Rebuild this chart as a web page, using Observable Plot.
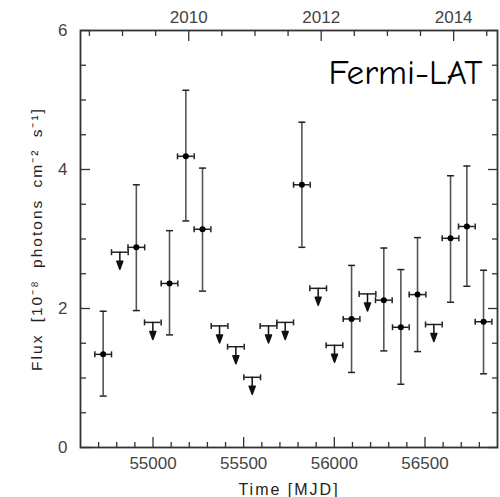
<!DOCTYPE html>
<html><head><meta charset="utf-8">
<script src="https://cdn.jsdelivr.net/npm/d3@7"></script>
<script src="https://cdn.jsdelivr.net/npm/@observablehq/plot@0.6"></script>
<style>body{margin:0;background:#fff;} #chart svg{display:block;}</style>
</head><body><div id="chart"></div>
<script>
// Detections (MJD bin centre, flux, lower & upper error bound) in 1e-8 ph cm^-2 s^-1
const detTime = [54725, 54908, 55091, 55181, 55273, 55821, 56095, 56273, 56367, 56459, 56641, 56731, 56823];
const detFlux = [1.34, 2.88, 2.36, 4.19, 3.14, 3.78, 1.85, 2.12, 1.73, 2.20, 3.01, 3.18, 1.81];
const detLow  = [0.74, 1.97, 1.62, 3.26, 2.25, 2.88, 1.08, 1.39, 0.91, 1.38, 2.09, 2.32, 1.06];
const detHigh = [1.96, 3.78, 3.12, 5.14, 4.02, 4.68, 2.62, 2.87, 2.56, 3.02, 3.91, 4.05, 2.55];
// Upper limits
const ulTime = [54817, 54999, 55367, 55457, 55547, 55637, 55729, 55911, 56001, 56183, 56549];
const ulFlux = [2.81, 1.80, 1.75, 1.45, 1.01, 1.75, 1.80, 2.29, 1.47, 2.21, 1.77];
const halfBin = 46; // days

// Tick values
const mjdMajor = [55000, 55500, 56000, 56500];
const mjdMinor = [54700, 54800, 54900, 55100, 55200, 55300, 55400, 55600, 55700, 55800, 55900, 56100, 56200, 56300, 56400, 56600, 56700, 56800];
const fluxMajor = [0, 2, 4, 6];
const fluxMinor = [0.5, 1, 1.5, 2.5, 3, 3.5, 4.5, 5, 5.5];
const yearMajor = [2010, 2012, 2014];
const yearMinor = [2008.5, 2009, 2009.5, 2010.5, 2011, 2011.5, 2012.5, 2013, 2013.5, 2014.5];
const yearToMJD = y => 51544.5 + (y - 2000) * 365.25;

const xLabel = "Time [MJD]";
const yLabel = "Flux [10\u207B\u2078 photons cm\u207B\u00B2 s\u207B\u00B9]";
const tag = "Fermi-LAT";

const det = detTime.map((t, i) => ({t, f: detFlux[i], lo: detLow[i], hi: detHigh[i]}));
const ul = ulTime.map((t, i) => ({t, f: ulFlux[i]}));

const hcap = {draw(c, s) { const r = Math.sqrt(s / Math.PI); c.moveTo(-r, 0); c.lineTo(r, 0); }};
const vcap = {draw(c, s) { const r = Math.sqrt(s / Math.PI); c.moveTo(0, -r); c.lineTo(0, r); }};
const downArrow = {draw(c, l) {
  const h = 8, w = 3;
  c.moveTo(0, 0); c.lineTo(0, -(l - h));
  c.moveTo(-w, -(l - h)); c.lineTo(0, -l); c.lineTo(w, -(l - h)); c.closePath();
}};

const tickStroke = "#333";
const errStroke = "#555";
const barStroke = "#222";

const chart = Plot.plot({
  width: 500, height: 497,
  marginLeft: 80, marginRight: 3, marginTop: 30, marginBottom: 50,
  style: {fontFamily: "'Liberation Sans', Arial, sans-serif", fontSize: "17px", color: "#333", background: "#fff"},
  x: {domain: [54600, 56900], axis: null},
  y: {domain: [0, 6], axis: null},
  marks: [
    // inward ticks
    Plot.axisX(mjdMinor, {anchor: "bottom", tickSize: -5, fill: "none", stroke: tickStroke, strokeWidth: 1.3, label: null}),
    Plot.axisX(mjdMajor, {anchor: "bottom", tickSize: -10, fill: "none", stroke: tickStroke, strokeWidth: 1.3, label: null}),
    Plot.axisX(yearMinor.map(yearToMJD), {anchor: "top", tickSize: -5, fill: "none", stroke: tickStroke, strokeWidth: 1.3, label: null}),
    Plot.axisX(yearMajor.map(yearToMJD), {anchor: "top", tickSize: -10, fill: "none", stroke: tickStroke, strokeWidth: 1.3, label: null}),
    Plot.axisY(fluxMinor, {anchor: "left", tickSize: -6, fill: "none", stroke: tickStroke, strokeWidth: 1.3, label: null}),
    Plot.axisY(fluxMajor, {anchor: "left", tickSize: -10, fill: "none", stroke: tickStroke, strokeWidth: 1.3, label: null}),
    Plot.axisY(fluxMinor, {anchor: "right", tickSize: -6, fill: "none", stroke: tickStroke, strokeWidth: 1.3, label: null}),
    Plot.axisY(fluxMajor, {anchor: "right", tickSize: -10, fill: "none", stroke: tickStroke, strokeWidth: 1.3, label: null}),
    // tick labels
    Plot.axisX(mjdMajor, {anchor: "bottom", tickSize: 0, tickPadding: 9, tickFormat: d => String(d), fill: "#444", fontSize: 17, label: null}),
    Plot.axisX(yearMajor.map(yearToMJD), {anchor: "top", tickSize: 0, tickPadding: 8, tickFormat: d => String(Math.round((d - 51544.5) / 365.25 + 2000)), fill: "#444", fontSize: 17, label: null}),
    Plot.axisY(fluxMajor, {anchor: "left", tickSize: 0, tickPadding: 13, tickFormat: d => String(d), fill: "#444", fontSize: 17, label: null}),
    Plot.frame({stroke: "#333", strokeWidth: 1.8}),
    // axis titles
    Plot.text([xLabel], {frameAnchor: "bottom", dy: 42, lineAnchor: "middle", fill: "#222", fontSize: 16, text: d => d}),
    Plot.text([yLabel], {frameAnchor: "left", textAnchor: "middle", dx: -43, dy: 0, rotate: -90, lineAnchor: "middle", fill: "#222", fontSize: 15.5, text: d => d}),
    Plot.text([tag], {frameAnchor: "top-right", dx: -15, dy: 29, lineAnchor: "top", textAnchor: "end", fill: "#000", fontSize: 35, fontFamily: "'Comic Sans MS', 'Comic Neue', cursive", text: d => d}),
    // detections
    Plot.ruleX(det, {x: "t", y1: "lo", y2: "hi", stroke: errStroke, strokeWidth: 1.6}),
    Plot.dot(det, {x: "t", y: "lo", symbol: hcap, r: 3.5, stroke: barStroke, strokeWidth: 1.5}),
    Plot.dot(det, {x: "t", y: "hi", symbol: hcap, r: 3.5, stroke: barStroke, strokeWidth: 1.5}),
    Plot.ruleY(det, {y: "f", x1: d => d.t - halfBin, x2: d => d.t + halfBin, stroke: barStroke, strokeWidth: 1.5}),
    Plot.dot(det, {x: d => d.t - halfBin, y: "f", symbol: vcap, r: 3, stroke: barStroke, strokeWidth: 1.5}),
    Plot.dot(det, {x: d => d.t + halfBin, y: "f", symbol: vcap, r: 3, stroke: barStroke, strokeWidth: 1.5}),
    Plot.dot(det, {x: "t", y: "f", r: 3, fill: "#000", stroke: "none"}),
    // upper limits
    Plot.ruleY(ul, {y: "f", x1: d => d.t - halfBin, x2: d => d.t + halfBin, stroke: barStroke, strokeWidth: 1.5}),
    Plot.dot(ul, {x: d => d.t - halfBin, y: "f", symbol: vcap, r: 3, stroke: barStroke, strokeWidth: 1.5}),
    Plot.dot(ul, {x: d => d.t + halfBin, y: "f", symbol: vcap, r: 3, stroke: barStroke, strokeWidth: 1.5}),
    Plot.vector(ul, {x: "t", y: "f", rotate: 180, anchor: "start", length: 17, shape: downArrow, stroke: "#111", fill: "#111", strokeWidth: 1.5})
  ]
});

d3.select(chart).selectAll("text").each(function() {
  const t = this.textContent;
  if (t === xLabel) d3.select(this).style("letter-spacing", "2px");
  if (t === yLabel) d3.select(this).style("letter-spacing", "2px").style("word-spacing", "5px");
});
document.getElementById("chart").appendChild(chart);
</script>
</body></html>
